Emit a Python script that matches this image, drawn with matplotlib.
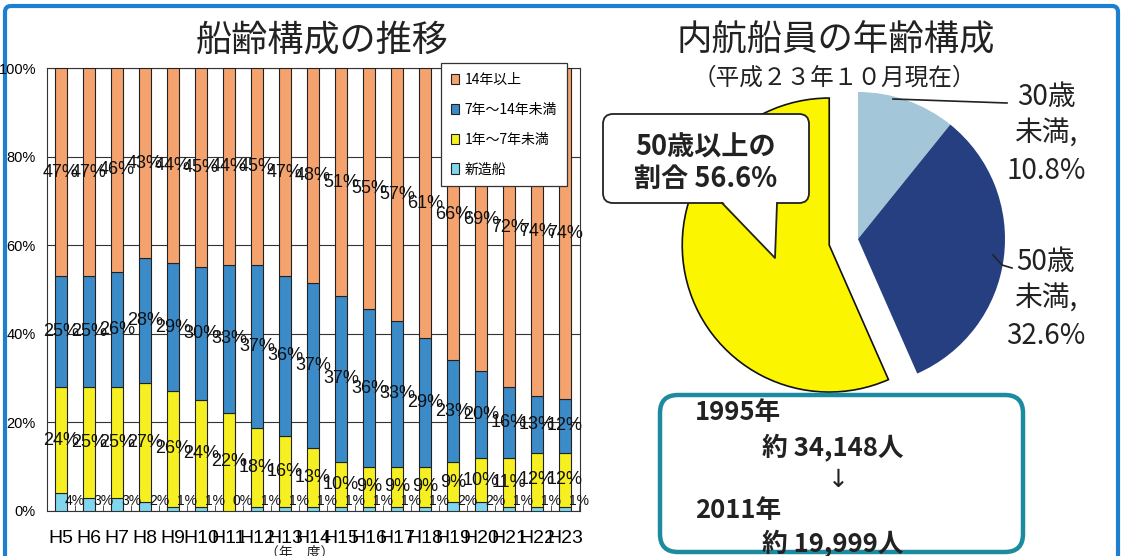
import numpy as np
import matplotlib
matplotlib.use("Agg")
import matplotlib.pyplot as plt
from matplotlib.patches import Patch, FancyBboxPatch, Polygon

plt.rcParams["font.family"] = ["Noto Sans CJK JP", "DejaVu Sans"]
NARROW = ["Liberation Sans Narrow", "Liberation Sans", "DejaVu Sans"]

# ---- bar chart data (share of ships by age, %) ----
years = ["H5", "H6", "H7", "H8", "H9", "H10", "H11", "H12", "H13", "H14",
         "H15", "H16", "H17", "H18", "H19", "H20", "H21", "H22", "H23"]
new_ships = [4, 3, 3, 2, 1, 1, 0, 1, 1, 1, 1, 1, 1, 1, 2, 2, 1, 1, 1]
age_1_7 = [24, 25, 25, 27, 26, 24, 22, 18, 16, 13, 10, 9, 9, 9, 9, 10, 11, 12, 12]
age_7_14 = [25, 25, 26, 28, 29, 30, 33, 37, 36, 37, 37, 36, 33, 29, 23, 20, 16, 13, 12]
age_14_up = [47, 47, 46, 43, 44, 45, 44, 45, 47, 48, 51, 55, 57, 61, 66, 69, 72, 74, 74]
series_names = ["新造船", "1年～7年未満", "7年～14年未満", "14年以上"]
yticks = [0, 20, 40, 60, 80, 100]

# ---- pie data (crew age, %) ----
pie_names = ["30歳\n未満,", "50歳\n未満,", "50歳以上"]
pie_values = [10.8, 32.6, 56.6]
crew_years = ["1995年", "2011年"]
crew_counts = ["約 34,148人", "約 19,999人"]

W, H = 1121, 556
fig = plt.figure(figsize=(W / 100, H / 100), dpi=100)
fig.patch.set_facecolor("white")

def fx(px):
    return px / W

def fy(py):
    return 1 - py / H

# ---------------- stacked bars ----------------
ax = fig.add_axes([fx(47), fy(511), fx(580) - fx(47), fy(68) - fy(511)])
colors = ["#7fd6ee", "#f6f022", "#3b8bc9", "#f4a26e"]
data = np.array([new_ships, age_1_7, age_7_14, age_14_up], dtype=float)
norm = data / data.sum(axis=0) * 100
x = np.arange(len(years))
bottom = np.zeros(len(years))
for k in range(4):
    ax.bar(x, norm[k], 0.43, bottom=bottom, color=colors[k],
           edgecolor="#222222", linewidth=0.8, zorder=3)
    for i in range(len(years)):
        if k == 0:
            ax.text(x[i] + 0.5, 2.2, f"{int(data[k, i])}%", ha="center", va="center",
                    fontsize=10, family=NARROW, color="#111111", zorder=4)
        else:
            ax.text(x[i], bottom[i] + norm[k, i] / 2, f"{int(data[k, i])}%",
                    ha="center", va="center", fontsize=13, family=NARROW,
                    color="#111111", zorder=4)
    bottom += norm[k]

ax.set_xlim(-0.5, 18.54)
ax.set_ylim(0, 100)
ax.set_yticks(yticks)
ax.set_yticklabels([f"{v}%" for v in yticks], family=NARROW, fontsize=10.5)
ax.set_xticks(x)
ax.set_xticklabels(years, family=NARROW, fontsize=14)
ax.tick_params(axis="y", length=0, pad=8)
ax.tick_params(axis="x", length=0, pad=14)
ax.set_xticks(np.arange(len(years)) + 0.5, minor=True)
ax.tick_params(axis="x", which="minor", direction="in", length=4, color="#333333")
ax.grid(axis="y", color="#333333", linewidth=0.8, zorder=0)
for s in ax.spines.values():
    s.set_color("#333333")
    s.set_linewidth(0.8)

handles = [Patch(facecolor=colors[k], edgecolor="#222222", linewidth=0.8)
           for k in [3, 2, 1, 0]]
leg = fig.legend(handles, [series_names[k] for k in [3, 2, 1, 0]],
                 loc="upper left", bbox_to_anchor=(fx(441), fy(63)),
                 bbox_transform=fig.transFigure, fontsize=10, borderaxespad=0,
                 handlelength=0.6, handleheight=0.8, handletextpad=0.4,
                 labelspacing=1.15, borderpad=0.7, fancybox=False,
                 framealpha=1, edgecolor="#333333")
leg.get_frame().set_linewidth(0.9)
leg.set_zorder(5)

fig.text(fx(322), fy(40), "船齢構成の推移", ha="center", va="center", fontsize=26,
         color="#222222")
fig.text(fx(300), fy(553), "（年　度）", ha="center", va="center", fontsize=10,
         color="#222222")

# ---------------- pie ----------------
R = 147
cx, cy = 858, 239
span = 1.45
pax = fig.add_axes([fx(cx - R * span), fy(cy + R * span),
                    fx(2 * R * span), 2 * R * span / H])
wedges, _ = pax.pie(pie_values, colors=["#a3c6d8", "#263f80", "#fbf500"],
                    startangle=90, counterclock=False,
                    explode=[0, 0, 0.2], radius=1)
wedges[2].set_edgecolor("#111111")
wedges[2].set_linewidth(1.2)
pax.set_xlim(-span, span)
pax.set_ylim(-span, span)
pax.set_aspect("equal")
pax.axis("off")

# ---------------- overlay in pixel coordinates ----------------
ov = fig.add_axes([0, 0, 1, 1], zorder=10)
ov.set_xlim(0, W)
ov.set_ylim(H, 0)
ov.axis("off")

# outer blue frame, drawn beneath the axes so the tick labels stay on top
frame = FancyBboxPatch((5, 6), 1113, 570, boxstyle="round,pad=0,rounding_size=6",
                       fill=False, edgecolor="#1f7fcf", linewidth=3.0,
                       transform=ov.transData, zorder=-1)
fig.add_artist(frame)

ov.text(836, 40, "内航船員の年齢構成", ha="center", va="center", fontsize=25.5,
        color="#222222")
ov.text(834, 78, "（平成２３年１０月現在）", ha="center", va="center", fontsize=17,
        color="#222222")

ov.plot([893, 1007], [99, 103], color="#222222", linewidth=1.2)
ov.plot([993, 1002, 1012], [255, 265, 268], color="#222222", linewidth=1.2)
ov.text(1046, 134, f"{pie_names[0]}\n{pie_values[0]}%", ha="center", va="center",
        fontsize=20, linespacing=1.3, color="#222222")
ov.text(1046, 299, f"{pie_names[1]}\n{pie_values[1]}%", ha="center", va="center",
        fontsize=20, linespacing=1.3, color="#222222")

# callout
ov.add_patch(FancyBboxPatch((606, 117), 200, 83, boxstyle="round,pad=3,rounding_size=10",
                            facecolor="white", edgecolor="#222222", linewidth=1.3))
ov.add_patch(Polygon([[722, 201], [777, 201], [775, 258]], closed=True,
                     facecolor="white", edgecolor="none"))
ov.plot([722, 775, 777], [203, 258, 203], color="#222222", linewidth=1.3)
ov.text(706, 163, f"{pie_names[2]}の\n割合 {pie_values[2]}%", ha="center", va="center",
        fontsize=19.5, fontweight="bold", linespacing=1.15, color="#222222")

# population box
ov.add_patch(FancyBboxPatch((660, 395), 363, 157, boxstyle="round,pad=0,rounding_size=18",
                            facecolor="white", edgecolor="#1c8ba0", linewidth=3.2))
ov.text(695, 413, crew_years[0], ha="left", va="center", fontsize=18.5,
        fontweight="bold", color="#222222")
ov.text(762, 447, crew_counts[0], ha="left", va="center", fontsize=18.5,
        fontweight="bold", color="#222222")
ov.text(838, 480, "↓", ha="center", va="center", fontsize=18, color="#222222",
        family=["DejaVu Sans"])
ov.text(695, 510, crew_years[1], ha="left", va="center", fontsize=18.5,
        fontweight="bold", color="#222222")
ov.text(762, 543, crew_counts[1], ha="left", va="center", fontsize=18.5,
        fontweight="bold", color="#222222")

fig.savefig("out.png", dpi=100)
